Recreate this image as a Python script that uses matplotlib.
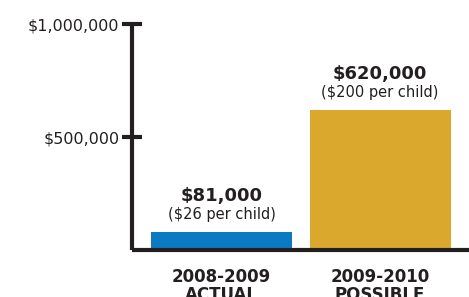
import matplotlib.pyplot as plt
from matplotlib.ticker import FuncFormatter

plt.rcParams['font.family'] = ['DejaVu Sans']

categories = ['2008-2009\nACTUAL', '2009-2010\nPOSSIBLE']
values = [81000, 620000]
amount_labels = ['$81,000', '$620,000']
per_child = ['($26 per child)', '($200 per child)']
colors = ['#0a7bc2', '#d9a82d']
ink = '#231f20'

fig = plt.figure(figsize=(4.69, 2.97), dpi=100)
ax = fig.add_axes([0.2814, 0.158, 0.7186, 0.761])

x = range(len(categories))
ax.bar(x, values, width=0.89, color=colors, zorder=2)

for xi, v, big, small in zip(x, values, amount_labels, per_child):
    ax.annotate(big, (xi, v), xytext=(0, 26), textcoords='offset points',
                ha='center', va='center', fontsize=13, fontweight='bold', color=ink)
    ax.annotate(small, (xi, v), xytext=(0, 12.5), textcoords='offset points',
                ha='center', va='center', fontsize=10.5, color=ink)

ax.set_xlim(-0.565, 1.561)
ax.set_ylim(0, 1000000)
ax.set_yticks([500000, 1000000])
ax.yaxis.set_major_formatter(FuncFormatter(lambda v, p: '${:,.0f}'.format(v)))
ax.tick_params(axis='y', direction='inout', length=14, width=3, color=ink,
               labelsize=11.5, labelcolor=ink, pad=2)
ax.set_xticks(list(x))
ax.set_xticklabels(categories, fontsize=12, fontweight='bold', color=ink,
                   linespacing=1.0, va='top')
ax.tick_params(axis='x', length=0, pad=13)

for s in ['top', 'right']:
    ax.spines[s].set_visible(False)
for s in ['left', 'bottom']:
    ax.spines[s].set_linewidth(3)
    ax.spines[s].set_color(ink)
    ax.spines[s].set_capstyle('butt')

fig.savefig('out.png', dpi=100)
